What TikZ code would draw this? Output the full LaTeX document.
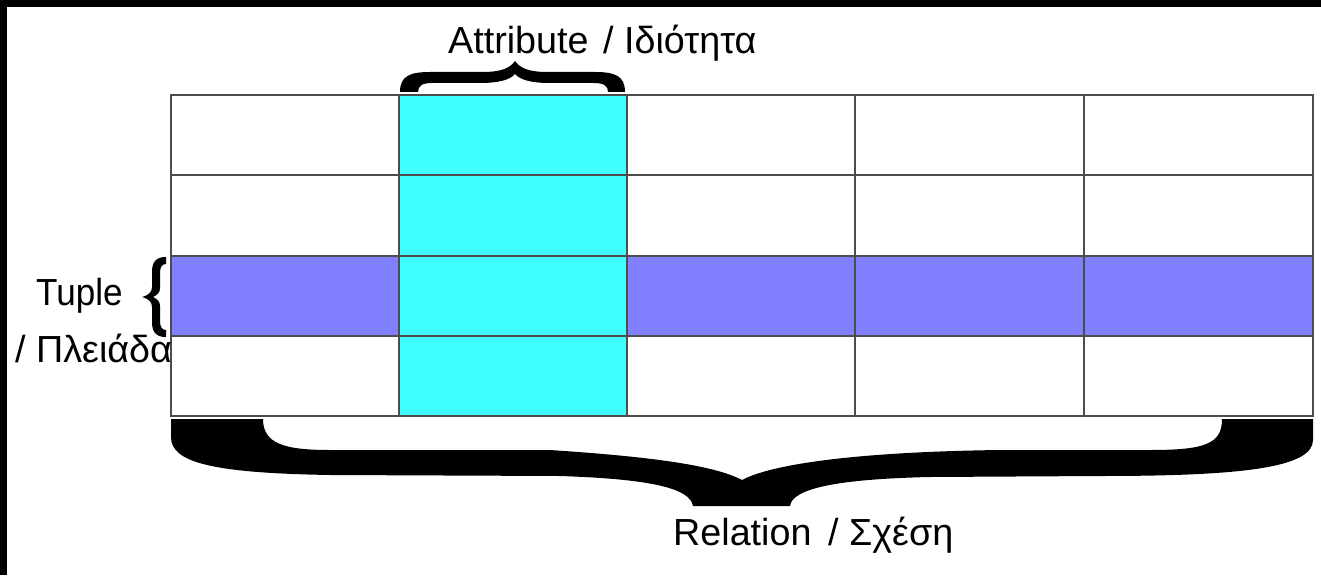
\documentclass[tikz,border=0pt]{standalone}
\usepackage{fontspec}
\setmainfont{Liberation Sans}
\begin{document}
\begin{tikzpicture}[x=1pt,y=-1pt,
  grid/.style={draw=black!70,line width=1.4pt},
  lbl/.style={anchor=base west,inner sep=0pt,font=\fontsize{37.7}{40}\selectfont},
  bracefill/.style={fill=black,draw=none}]
\useasboundingbox (0,0) rectangle (1321,575);
\fill[white] (0,0) rectangle (1321,575);
% black frame on top and left
\fill[black] (0,0) rectangle (1321,7);
\fill[black] (0,0) rectangle (7,575);

% highlighted row and column
\fill[fill={rgb,255:red,128;green,128;blue,255}] (171,256) rectangle (1313,336);
\fill[fill={rgb,255:red,64;green,255;blue,255}] (399,95) rectangle (627,416);

% table grid
\foreach \x in {399,627,855,1084}
  \draw[grid] (\x,95) -- (\x,416);
\foreach \y in {175,256,336}
  \draw[grid] (171,\y) -- (1313,\y);
\draw[grid] (171,95) rectangle (1313,416);

% brace over the attribute column
\fill[bracefill] (400,92) .. controls (400,76) and (410,72) .. (430,72)
  -- (482,72) .. controls (502,72) and (510,68) .. (515,61)
  .. controls (520,68) and (528,72) .. (548,72)
  -- (595,72) .. controls (615,72) and (625,76) .. (625,92)
  -- (608,92) .. controls (608,86) and (604,83) .. (594,83)
  -- (550,83) .. controls (532,83) and (520,80) .. (515,74)
  .. controls (510,80) and (498,83) .. (480,83)
  -- (432,83) .. controls (422,83) and (418,86) .. (418,92) -- cycle;

% brace beside the tuple row
\fill[bracefill]
  (166,257) .. controls (156,257) and (152,262) .. (152,272) -- (152,287)
  .. controls (152,292) and (149,295) .. (142,297)
  .. controls (149,299) and (152,302) .. (152,307) -- (152,322)
  .. controls (152,332) and (156,337) .. (166,337)
  -- (166,330) .. controls (162,330) and (160,327) .. (160,321) -- (160,306)
  .. controls (160,301) and (157,299) .. (153,297)
  .. controls (157,295) and (160,293) .. (160,288) -- (160,273)
  .. controls (160,267) and (162,264) .. (166,264) -- cycle;

% brace under the whole relation
\fill[bracefill] (171,419) -- (263,419)
  .. controls (263,444) and (285,450) .. (330,450)
  -- (550,450) .. controls (640,456) and (712,464) .. (742,480)
  .. controls (770,465) and (850,452) .. (1000,450)
  -- (1150,450) .. controls (1205,450) and (1222,444) .. (1222,419)
  -- (1313,419) -- (1313,440)
  .. controls (1313,468) and (1240,476) .. (1100,476)
  -- (930,477) .. controls (840,479) and (792,488) .. (790,506)
  -- (693,506) .. controls (690,488) and (650,479) .. (560,476)
  -- (330,475) .. controls (210,473) and (171,462) .. (171,437) -- cycle;

% labels
\node[lbl] (attr) at (448,54) {Attribute};
\node[lbl] (attrgr) at (603,54) {/ Ιδιότητα};
\node[lbl] (tuple) at (36,305) {\scalebox{0.93}[1]{Tuple}};
\node[lbl] (tuplegr) at (15,362) {/ Πλειάδα};
\node[lbl] (rel) at (673,545) {Relation};
\node[lbl] (relgr) at (828,545) {/ Σχέση};
\end{tikzpicture}
\end{document}
